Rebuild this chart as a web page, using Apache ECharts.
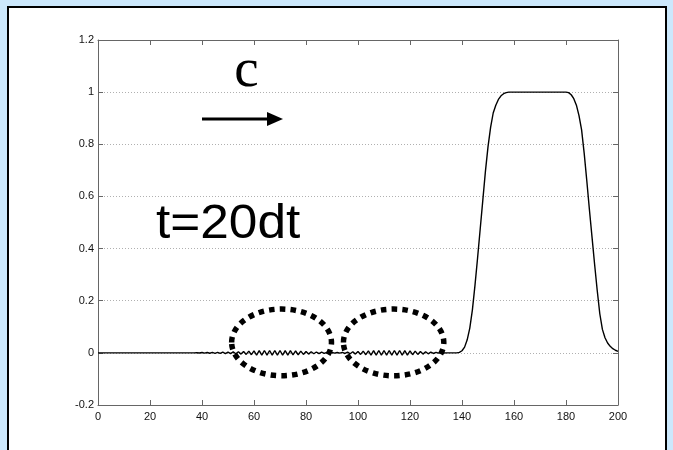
<!DOCTYPE html>
<html>
<head>
<meta charset="utf-8">
<script src="https://cdn.jsdelivr.net/npm/echarts@6/dist/echarts.min.js"></script>
<style>
  html, body { margin: 0; padding: 0; background: #cce8fc; width: 673px; height: 450px; overflow: hidden; }
  #panel { position: absolute; left: 7px; top: 6px; width: 656px; height: 460px; background: #fff; border: 2px solid #000; border-bottom: none; }
  #main { position: absolute; left: 0; top: 0; width: 673px; height: 450px; }
</style>
</head>
<body>
<div id="panel"></div>
<div id="main"></div>
<script>
// sampling grid of the curve
const xStart = 0;
const xStep = 1;
// curve values u(x) at x = 0,1,...,200
const uValues = [
  0,0,0,0,0,0,0,0,0,0,
  0,0,0,0,0,0,0,0,0,0,
  0,0,0,0,0,0,0,0,0,0,
  0,0,0,0,0,0,0,0,0.0006,-0.0006,
  0.0012,-0.0012,0.0015,-0.0015,0.0018,-0.0018,0.0022,-0.0022,0.0026,-0.0026,
  0.003,-0.003,0.0036,-0.0036,0.0042,-0.0048,0.0054,-0.006,0.0066,-0.0072,
  0.0078,-0.0084,0.0086,-0.009,0.009,-0.009,0.009,-0.009,0.009,-0.009,
  0.009,-0.009,0.0086,-0.0084,0.0082,-0.0078,0.0072,-0.0072,0.0066,-0.006,
  0.0054,-0.0048,0.0042,-0.0036,0.0034,-0.003,0.0024,-0.0022,0.0018,-0.0012,
  0.0012,-0.0012,0.0012,-0.0012,0.0018,-0.0024,0.003,-0.0036,0.0042,-0.0048,
  0.0054,-0.006,0.0066,-0.0072,0.0078,-0.0084,0.0086,-0.009,0.009,-0.009,
  0.009,-0.009,0.009,-0.009,0.009,-0.009,0.009,-0.0086,0.0084,-0.0084,
  0.0078,-0.0072,0.0066,-0.006,0.0054,-0.0048,0.0042,-0.0036,0.003,-0.0024,
  0.0018,-0.0012,0.001,-0.0006,0,0,0,0,0,0.002,
  0.008,0.022,0.05,0.095,0.165,0.26,0.365,0.475,0.585,0.695,
  0.79,0.865,0.92,0.95,0.972,0.986,0.994,0.998,1,1,
  1,1,1,1,1,1,1,1,1,1,
  1,1,1,1,1,1,1,1,1,1,
  1,0.998,0.99,0.975,0.95,0.91,0.855,0.765,0.66,0.55,
  0.445,0.34,0.24,0.15,0.09,0.058,0.038,0.025,0.016,0.01,
  0.006
];
// axis ranges / ticks
const xMin = 0, xMax = 200, xInterval = 20;
const yMin = -0.2, yMax = 1.2, yInterval = 0.2;
// annotation ellipses (data units): centre x, centre y, radius x, radius y
const ellipseCx = [70.6, 113.7];
const ellipseCy = [0.04, 0.04];
const ellipseRx = [19.2, 19.3];
const ellipseRy = [0.128, 0.128];
// annotation texts
const velocityLabel = 'c';
const timeLabel = 't=20dt';

const curve = uValues.map((v, i) => [xStart + i * xStep, v]);
const ellipses = ellipseCx.map((cx, i) => [cx, ellipseCy[i], ellipseRx[i], ellipseRy[i]]);

const axisColor = '#666';
const labelStyle = { color: '#111', fontSize: 11, fontFamily: '"Liberation Sans", Arial, sans-serif' };

function xAx(pos, showLabel) {
  return {
    type: 'value', position: pos, min: xMin, max: xMax, interval: xInterval,
    axisLine: { show: true, onZero: false, lineStyle: { color: axisColor, width: 1 } },
    axisTick: { show: true, inside: true, length: 5, lineStyle: { color: axisColor } },
    axisLabel: Object.assign({ show: showLabel, margin: 6 }, labelStyle),
    splitLine: { show: false }
  };
}
function yAx(pos, showLabel, grid) {
  return {
    type: 'value', position: pos, min: yMin, max: yMax, interval: yInterval,
    axisLine: { show: true, onZero: false, lineStyle: { color: axisColor, width: 1 } },
    axisTick: { show: true, inside: true, length: 5, lineStyle: { color: axisColor } },
    axisLabel: Object.assign({ show: showLabel, margin: 4 }, labelStyle),
    splitLine: { show: grid, lineStyle: { color: '#b0b0b0', width: 1, type: [1, 2] } }
  };
}

const chart = echarts.init(document.getElementById('main'), null, { renderer: 'canvas' });
chart.setOption({
  animation: false,
  backgroundColor: 'transparent',
  grid: { left: 98, right: 55, top: 40, bottom: 45, show: false },
  xAxis: [xAx('bottom', true), xAx('top', false)],
  yAxis: [yAx('left', true, true), yAx('right', false, false)],
  series: [
    {
      type: 'line', data: curve, xAxisIndex: 0, yAxisIndex: 0,
      showSymbol: false, symbol: 'none', smooth: false,
      lineStyle: { color: '#000', width: 1.4 }, z: 3
    },
    {
      type: 'custom', data: ellipses, xAxisIndex: 0, yAxisIndex: 0,
      encode: { x: 0, y: 1 }, clip: false, z: 4,
      renderItem: function (params, api) {
        const c = api.coord([api.value(0), api.value(1)]);
        const s = api.size([api.value(2), api.value(3)]);
        return {
          type: 'ellipse',
          shape: { cx: c[0], cy: c[1], rx: s[0], ry: s[1] },
          style: { fill: 'none', stroke: '#000', lineWidth: 5.5, lineDash: [5.5, 5.2], lineCap: 'butt' }
        };
      }
    }
  ],
  graphic: [
    {
      type: 'text', z: 10,
      style: { text: velocityLabel, x: 246.5, y: 72, font: '55px "Liberation Serif", "Times New Roman", serif',
               fill: '#000', textAlign: 'center', textVerticalAlign: 'middle', align: 'center', verticalAlign: 'middle' }
    },
    {
      type: 'line', z: 10,
      shape: { x1: 202, y1: 119, x2: 270, y2: 119 },
      style: { stroke: '#000', lineWidth: 3 }
    },
    {
      type: 'polygon', z: 10,
      shape: { points: [[267, 112], [283, 119], [267, 126]] },
      style: { fill: '#000' }
    },
    {
      type: 'text', z: 10, x: 156, y: 0, scaleX: 1.07, originX: 0,
      style: { text: timeLabel, x: 0, y: 225, font: '48px "Liberation Sans", Arial, sans-serif',
               fill: '#000', textAlign: 'left', textVerticalAlign: 'middle', align: 'left', verticalAlign: 'middle' }
    }
  ]
});
</script>
</body>
</html>
